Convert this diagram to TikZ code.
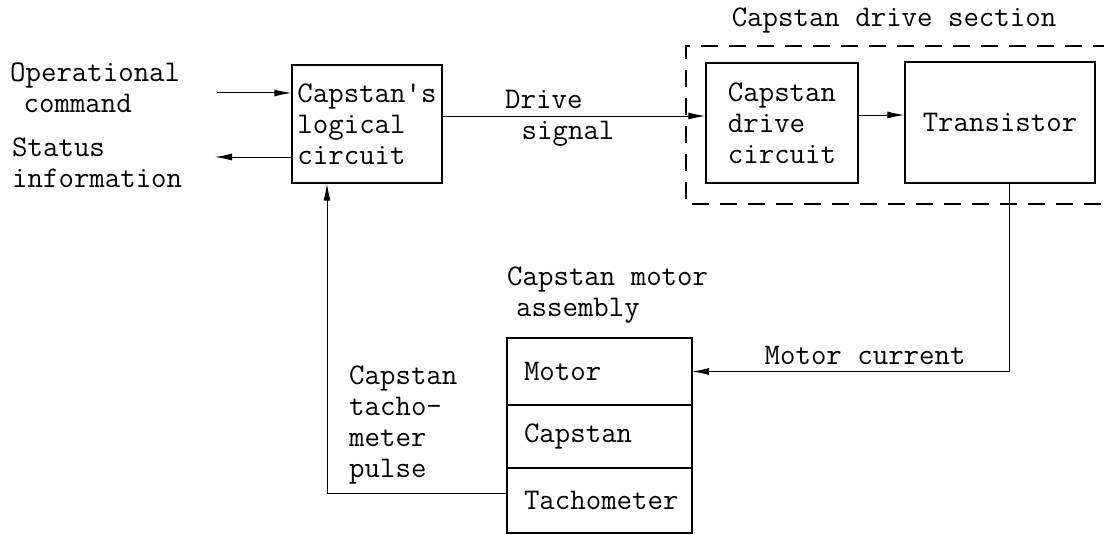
\documentclass[tikz,border=0pt]{standalone}
\usetikzlibrary{arrows.meta, positioning, calc}
\newcommand{\tfont}{\ttfamily\fontsize{30}{31}\selectfont}
\tikzset{
  blk/.style={draw, line width=1.3pt, inner sep=4pt, align=left},
  unitbox/.style={draw, line width=1.3pt, minimum width=185pt, text width=151pt,
                  inner xsep=17pt, inner ysep=0pt, outer sep=0pt, align=left},
  lbl/.style={inner sep=0pt, align=left, anchor=west},
  arr/.style={-{Latex[length=17pt, width=7pt]}, line width=1pt},
  grp/.style={line width=1.3pt, dash pattern=on 17pt off 11pt},
}

\begin{document}
\begin{tikzpicture}[x=1pt, y=-1pt, every node/.style={font=\tfont}]
  \useasboundingbox (0,0) rectangle (1104,535);

  %% Logic and drive section
  \node[blk, minimum width=150pt, minimum height=118pt] (logic) at (367,124)
    {Capstan\textquotesingle s\\logical\\circuit};
  \node[blk, minimum width=152pt, minimum height=120pt] (drv) at (782,123)
    {Capstan\\drive\\circuit};
  \node[blk, minimum width=190pt, minimum height=121pt] (trans) at (1000,122.5)
    {Transistor};
  % Group frame, open to the right
  \draw[grp] (1110,46) -- (686,46) -- (686,204) -- (1110,204);
  \node (sect) at (894,20) {Capstan drive section};

  %% Motor assembly
  \node[unitbox, minimum height=67pt] (motor) at (599.5,371.5) {Motor};
  \node[unitbox, minimum height=63pt, below=0pt of motor] (capst) {Capstan};
  \node[unitbox, minimum height=65pt, below=0pt of capst] (tacho) {Tachometer};
  \node[lbl] (asml) at (507,295) {Capstan motor\\\hspace*{0.3em}assembly};

  %% Outside labels
  \node[lbl] (opcmd) at (10,88) {Operational\\\hspace*{0.45em}command};
  \node[lbl] (status) at (12,163) {Status\\information};
  \node[lbl] (dsl) at (505,118) {Drive\\\hspace*{0.55em}signal};
  \node[lbl] (tpl) at (349,425) {Capstan\\tacho-\\meter\\pulse};

  %% Connectors
  \coordinate (opin) at (217,93);
  \coordinate (stout) at (215,157);
  \draw[arr] (opin) -- (opin -| logic.west);
  \draw[arr] (stout -| logic.west) -- (stout);
  \coordinate (dsig) at ([yshift=7pt]drv.west);
  \draw[arr] (dsig -| logic.east) -- (dsig);
  \coordinate (dt) at ([yshift=8pt]drv.east);
  \draw[arr] (dt) -- (dt -| trans.west);
  \coordinate (tr) at ([xshift=9pt]trans.south);
  \draw[arr] (tr) |- (motor.east)
    node[pos=0.727, above=6pt, inner sep=0pt] (mcur) {Motor current};
  \coordinate (tp) at ([yshift=7pt]tacho.west);
  \coordinate (lb) at ([xshift=-40pt]logic.south);
  \draw[arr] (tp) -| (lb);

\end{tikzpicture}
\end{document}
